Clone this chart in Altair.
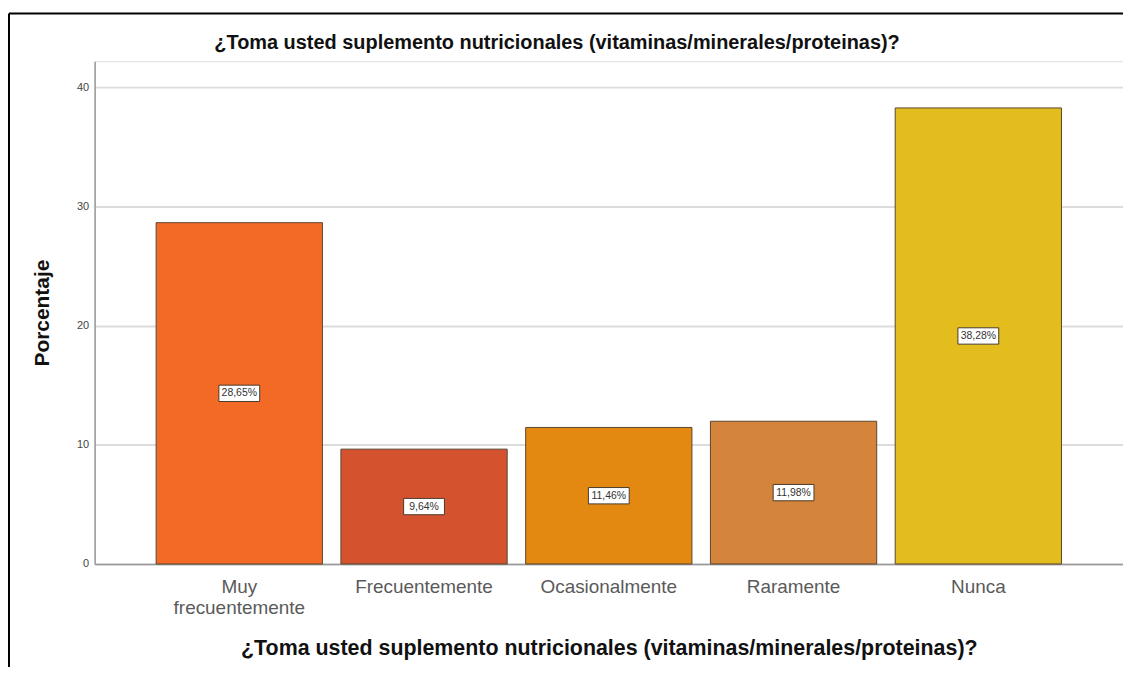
import altair as alt
import pandas as pd

categories = ["Muy frecuentemente", "Frecuentemente", "Ocasionalmente", "Raramente", "Nunca"]
values = [28.65, 9.64, 11.46, 11.98, 38.28]
labels = ["28,65%", "9,64%", "11,46%", "11,98%", "38,28%"]
colors = ["#F26A26", "#D5522F", "#E38811", "#D4843B", "#E3BC1D"]
y_ticks = [0, 10, 20, 30, 40]

title_text = "¿Toma usted suplemento nutricionales (vitaminas/minerales/proteinas)?"

df = pd.DataFrame({"cat": categories, "val": values, "lab": labels})

FONT = "Liberation Sans"

x_enc = alt.X(
    "cat:N",
    sort=categories,
    scale=alt.Scale(paddingInner=0.1, paddingOuter=0.333),
    axis=alt.Axis(
        title=title_text,
        titleFont=FONT, titleFontSize=21.5, titleFontWeight="bold", titleColor="#111",
        titlePadding=20,
        labelAngle=0, labelFont=FONT, labelFontSize=19, labelColor="#5a5a5a",
        labelPadding=14, labelLineHeight=21,
        labelExpr="datum.label == 'Muy frecuentemente' ? ['Muy', 'frecuentemente'] : datum.label",
        ticks=False, domainColor="#999", domainWidth=1.5, grid=False,
    ),
)

y_scale = alt.Scale(domain=[0, 42.2], nice=False)

bars = alt.Chart(df).mark_bar(stroke="#5a4630", strokeWidth=1).encode(
    x=x_enc,
    y=alt.Y(
        "val:Q",
        scale=y_scale,
        axis=alt.Axis(
            title="Porcentaje", values=y_ticks,
            titleFont=FONT, titleFontSize=21, titleFontWeight="bold", titleColor="#111",
            titlePadding=24,
            labelFont=FONT, labelFontSize=11, labelColor="#444", labelPadding=6,
            ticks=False, domainColor="#999", domainWidth=1.5,
            grid=True, gridColor="#dcdcdc", gridWidth=2,
        ),
    ),
    color=alt.Color("cat:N", scale=alt.Scale(domain=categories, range=colors), legend=None),
)

base_lab = alt.Chart(df).transform_calculate(mid="datum.val / 2")

boxes = base_lab.mark_point(
    shape="M-1,-0.4L1,-0.4L1,0.4L-1,0.4Z",
    filled=True, fill="white", stroke="#4a3a2a", strokeWidth=1, opacity=1, size=1681,
).encode(
    x=alt.X("cat:N", sort=categories),
    y=alt.Y("mid:Q", scale=y_scale),
)

texts = base_lab.mark_text(font=FONT, fontSize=10.5, color="#333").encode(
    x=alt.X("cat:N", sort=categories),
    y=alt.Y("mid:Q", scale=y_scale),
    text="lab:N",
)

frame_df = pd.DataFrame({"k": [0]})
frame_top = alt.Chart(frame_df).mark_rule(color="black", strokeWidth=2).encode(
    x=alt.value(-86), x2=alt.value(1040), y=alt.value(-48)
)
frame_left = alt.Chart(frame_df).mark_rule(color="black", strokeWidth=2).encode(
    x=alt.value(-86), y=alt.value(-48), y2=alt.value(620)
)

chart = alt.layer(bars, boxes, texts, frame_top, frame_left).properties(
    width=1033,
    height=505,
    autosize=alt.AutoSizeParams(type="none"),
    padding={"left": 87, "top": 52, "right": 0, "bottom": 102},
    title=alt.Title(
        title_text, font=FONT, fontSize=20, fontWeight="bold", color="#111",
        anchor="middle", dx=-52, offset=-41,
    ),
).configure_view(stroke=None).configure(background="white")

chart.save("out.html", embed_options={"renderer": "svg", "actions": False})
